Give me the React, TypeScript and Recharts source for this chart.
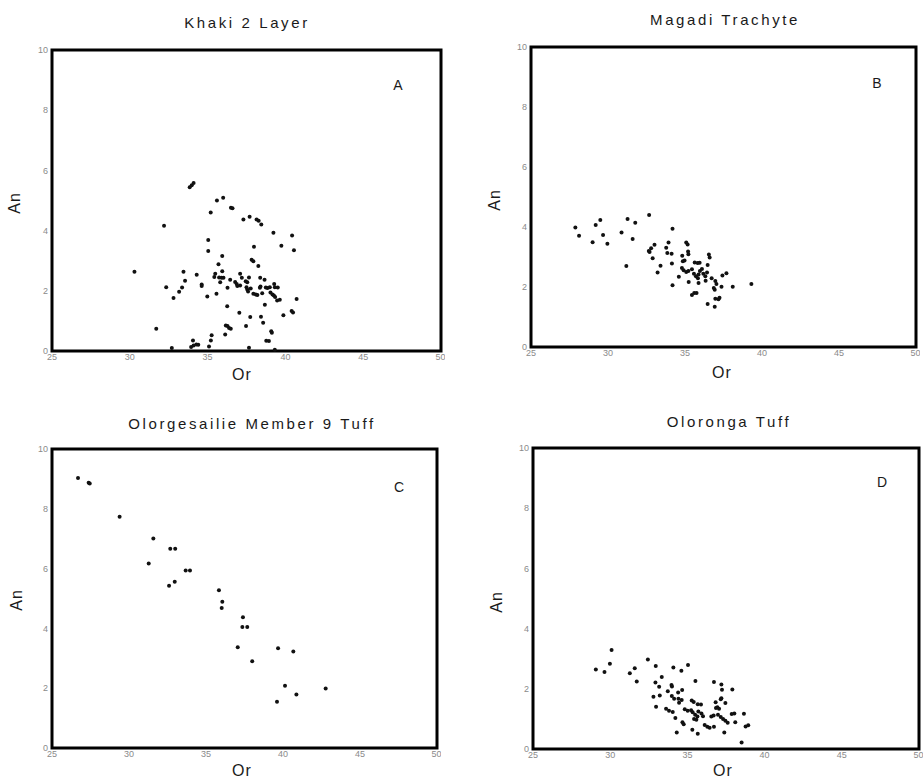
import React from 'react';
import { ReferenceArea, Scatter, ScatterChart, XAxis, YAxis } from 'recharts';

// [Or, An] pairs
const khakiPoints: [number, number][] = [
  [30.3, 2.63], [32.2, 4.16], [31.7, 0.74], [33.85, 5.44], [33.98, 5.51], [34.1, 5.58], [35.6, 5.0], [36.0, 5.09],
  [35.2, 4.6], [36.5, 4.76], [36.6, 4.74], [37.3, 4.37], [37.7, 4.46], [38.15, 4.37], [38.28, 4.33], [38.45, 4.2],
  [39.23, 3.93], [40.43, 3.84], [39.74, 3.5], [40.55, 3.35], [35.04, 3.69], [35.04, 3.32], [37.98, 3.46], [35.94, 3.16],
  [37.83, 3.03], [37.94, 2.98], [38.26, 2.82], [35.7, 2.88], [35.94, 2.65], [33.45, 2.63], [34.3, 2.53], [33.55, 2.33],
  [33.36, 2.11], [32.34, 2.12], [33.17, 1.97], [32.81, 1.76], [34.62, 2.21], [34.62, 2.16], [34.98, 1.81], [35.57, 1.9],
  [35.43, 2.46], [35.49, 2.57], [35.81, 2.28], [35.74, 2.44], [35.9, 2.43], [36.02, 2.43], [36.28, 2.1], [36.45, 2.37],
  [36.77, 2.29], [36.87, 2.23], [37.09, 2.57], [37.2, 2.43], [37.45, 2.32], [37.55, 2.28], [37.66, 2.44], [36.91, 2.16],
  [37.09, 2.18], [37.5, 2.12], [37.55, 2.04], [37.6, 1.98], [37.77, 2.08], [37.94, 1.9], [38.1, 1.88], [38.2, 1.86],
  [38.38, 2.43], [38.36, 2.1], [38.4, 2.14], [38.51, 1.92], [38.66, 2.37], [38.74, 2.11], [38.85, 2.09], [39.0, 2.12],
  [39.28, 2.23], [39.32, 2.12], [39.51, 2.11], [39.04, 1.94], [39.17, 1.88], [39.26, 1.84], [39.34, 1.79], [39.47, 1.68],
  [39.64, 1.7], [40.72, 1.73], [38.68, 1.54], [36.26, 1.49], [37.04, 1.27], [37.74, 1.13], [38.43, 1.14], [38.57, 0.94],
  [39.87, 1.19], [40.4, 1.33], [40.49, 1.28], [37.47, 0.83], [36.17, 0.85], [36.28, 0.83], [36.38, 0.76], [36.49, 0.74],
  [36.13, 0.55], [35.26, 0.52], [35.21, 0.35], [39.09, 0.66], [39.13, 0.61], [38.77, 0.34], [38.94, 0.33], [34.06, 0.35],
  [33.94, 0.13], [34.1, 0.18], [34.28, 0.22], [34.4, 0.21], [32.7, 0.1], [35.09, 0.15], [37.66, 0.11], [39.32, 0.04],
];

const magadiPoints: [number, number][] = [
  [27.88, 3.98], [28.12, 3.71], [29.2, 4.07], [29.5, 4.23], [29.68, 3.73], [29.0, 3.49], [29.96, 3.44], [30.88, 3.82],
  [31.27, 4.27], [31.77, 4.14], [31.6, 3.6], [32.67, 4.4], [31.19, 2.7], [33.02, 3.41], [32.8, 3.29], [32.65, 3.2],
  [32.7, 3.17], [32.9, 2.96], [33.22, 2.48], [33.41, 2.71], [34.19, 3.94], [33.93, 3.48], [33.78, 3.31], [33.85, 3.13],
  [34.13, 3.11], [34.15, 2.78], [34.19, 2.06], [34.6, 2.34], [34.82, 3.04], [34.86, 2.86], [34.97, 2.88], [35.08, 3.48],
  [35.17, 3.42], [35.2, 3.18], [35.22, 3.09], [34.8, 2.63], [34.91, 2.56], [35.08, 2.5], [35.22, 2.53], [35.24, 2.17],
  [35.63, 2.82], [35.82, 2.8], [35.95, 2.81], [35.45, 2.59], [35.58, 2.44], [35.71, 2.36], [35.84, 2.29], [35.97, 2.53],
  [36.1, 2.6], [36.19, 2.44], [36.32, 2.36], [35.88, 2.42], [36.34, 2.21], [35.88, 2.13], [36.43, 2.48], [36.55, 3.08],
  [36.6, 2.98], [36.47, 2.73], [36.73, 2.29], [36.97, 2.2], [37.04, 2.1], [37.37, 2.01], [37.43, 2.38], [37.69, 2.46],
  [38.1, 2.01], [39.31, 2.1], [36.87, 1.97], [36.93, 1.91], [35.45, 1.73], [35.6, 1.8], [35.75, 1.8], [36.97, 1.61],
  [37.17, 1.59], [37.24, 1.64], [36.47, 1.43], [36.93, 1.34],
];

const olorgesailiePoints: [number, number][] = [
  [26.69, 9.03], [27.38, 8.87], [27.45, 8.85], [29.39, 7.73], [31.58, 7.01], [31.28, 6.17], [32.68, 6.66], [33.0, 6.66],
  [32.6, 5.43], [32.97, 5.56], [33.68, 5.94], [33.96, 5.94], [35.84, 5.28], [36.06, 4.89], [36.02, 4.68], [37.4, 4.37],
  [37.36, 4.05], [37.68, 4.05], [37.06, 3.37], [38.0, 2.9], [39.68, 3.34], [40.67, 3.23], [40.13, 2.08], [40.87, 1.79],
  [39.61, 1.55], [42.77, 1.99],
];

const olorongaPoints: [number, number][] = [
  [30.09, 3.29], [29.98, 2.83], [29.07, 2.64], [29.63, 2.56], [31.27, 2.52], [31.59, 2.68], [31.72, 2.24], [32.44, 2.97],
  [32.95, 2.76], [34.09, 2.71], [34.61, 2.6], [35.04, 2.79], [33.34, 2.39], [32.93, 2.21], [33.17, 2.07], [32.8, 1.74],
  [33.21, 1.78], [32.97, 1.4], [33.73, 1.92], [33.97, 2.13], [34.0, 2.08], [34.4, 1.88], [34.66, 1.96], [33.99, 1.76],
  [34.14, 1.67], [34.42, 1.67], [34.63, 1.63], [34.46, 1.54], [33.62, 1.34], [33.81, 1.27], [34.05, 1.23], [34.22, 1.03],
  [34.83, 1.32], [35.02, 1.27], [35.28, 1.61], [35.41, 1.56], [35.52, 2.26], [35.67, 1.49], [35.88, 1.48], [35.24, 1.29],
  [35.34, 1.22], [35.5, 1.14], [35.65, 1.08], [35.71, 1.25], [35.91, 1.18], [36.01, 1.09], [35.43, 1.0], [35.58, 0.97],
  [34.68, 0.89], [34.76, 0.82], [35.32, 0.64], [35.67, 0.51], [34.31, 0.55], [36.12, 0.8], [36.29, 0.74], [36.44, 0.71],
  [36.72, 2.23], [37.2, 2.14], [37.24, 1.97], [37.91, 1.98], [37.2, 1.69], [37.16, 1.65], [36.83, 1.55], [36.94, 1.39],
  [36.55, 1.08], [36.7, 1.11], [36.85, 1.36], [37.05, 1.34], [36.98, 1.14], [37.16, 1.06], [37.31, 1.0], [37.46, 0.94],
  [37.61, 0.87], [37.46, 1.53], [36.72, 0.74], [37.39, 0.55], [37.87, 1.16], [38.04, 1.18], [38.1, 0.89], [38.66, 1.17],
  [38.77, 0.75], [38.94, 0.79], [38.51, 0.22],
];

const orTicks = [25, 30, 35, 40, 45, 50];
const anTicks = [0, 2, 4, 6, 8, 10];

const FONT = '"Liberation Sans", Arial, Helvetica, sans-serif';

const Dot = (props: any) => <circle cx={props.cx} cy={props.cy} r={2} fill="#111" />;

interface PanelProps {
  title: string;
  letter: string;
  points: [number, number][];
  x0: number;
  y0: number;
  w: number;
  h: number;
  titleAt: [number, number];
  letterAt: [number, number];
  orAt: [number, number];
  anAt: [number, number];
}

const YW = 44;
const TOP = 12;
const XH = 40;

const Text = ({ at, children, size, spacing = 0, rotate = false }: any) => (
  <div
    style={{
      position: 'absolute',
      left: at[0],
      top: at[1],
      transform: `translate(-50%, -50%)${rotate ? ' rotate(-90deg)' : ''}`,
      fontFamily: FONT,
      fontSize: size,
      lineHeight: `${size}px`,
      letterSpacing: spacing,
      color: '#1a1a1a',
      whiteSpace: 'nowrap',
    }}
  >
    {children}
  </div>
);

const Panel = ({ title, letter, points, x0, y0, w, h, titleAt, letterAt, orAt, anAt }: PanelProps) => {
  const data = points.map(([or, an]) => ({ or, an }));
  return (
    <>
      <div style={{ position: 'absolute', left: x0 - YW, top: y0 - TOP }}>
        <ScatterChart width={YW + w + 4} height={TOP + h + XH} margin={{ top: TOP, right: 4, bottom: 0, left: 0 }}>
          <XAxis
            type="number"
            dataKey="or"
            domain={[25, 50]}
            ticks={orTicks}
            height={XH}
            axisLine={false}
            tickLine={false}
            tickSize={2}
            tickMargin={1}
            tick={{ fontSize: 9, fill: '#8a8a8a', fontFamily: FONT }}
          />
          <YAxis
            type="number"
            dataKey="an"
            domain={[0, 10]}
            ticks={anTicks}
            width={YW}
            axisLine={false}
            tickLine={false}
            tickSize={2}
            tickMargin={2}
            tick={{ fontSize: 9, fill: '#8a8a8a', fontFamily: FONT }}
          />
          <ReferenceArea
            x1={25}
            x2={50}
            y1={0}
            y2={10}
            fill="none"
            fillOpacity={0}
            stroke="#000"
            strokeWidth={3}
            ifOverflow="visible"
          />
          <Scatter data={data} shape={Dot} isAnimationActive={false} />
        </ScatterChart>
      </div>
      <Text at={titleAt} size={15} spacing={2.6}>{title}</Text>
      <Text at={letterAt} size={14}>{letter}</Text>
      <Text at={orAt} size={16} spacing={1}>Or</Text>
      <Text at={anAt} size={16} spacing={1} rotate>An</Text>
    </>
  );
};

export default function App() {
  return (
    <div style={{ position: 'absolute', left: 0, top: 0, width: 924, height: 781, background: '#fff', overflow: 'hidden' }}>
      <Panel
        title="Khaki 2 Layer"
        letter="A"
        points={khakiPoints}
        x0={52}
        y0={50}
        w={389}
        h={301}
        titleAt={[247, 22]}
        letterAt={[398, 85]}
        orAt={[242, 375]}
        anAt={[15, 203]}
      />
      <Panel
        title="Magadi Trachyte"
        letter="B"
        points={magadiPoints}
        x0={531}
        y0={47}
        w={385}
        h={300}
        titleAt={[725, 19]}
        letterAt={[877, 83]}
        orAt={[722, 373]}
        anAt={[495, 200]}
      />
      <Panel
        title="Olorgesailie Member 9 Tuff"
        letter="C"
        points={olorgesailiePoints}
        x0={52}
        y0={449}
        w={385}
        h={299}
        titleAt={[252, 423]}
        letterAt={[399, 487]}
        orAt={[242, 771]}
        anAt={[17, 600]}
      />
      <Panel
        title="Oloronga Tuff"
        letter="D"
        points={olorongaPoints}
        x0={533}
        y0={448}
        w={386}
        h={301}
        titleAt={[729, 421]}
        letterAt={[882, 482]}
        orAt={[723, 771]}
        anAt={[497, 602]}
      />
    </div>
  );
}
